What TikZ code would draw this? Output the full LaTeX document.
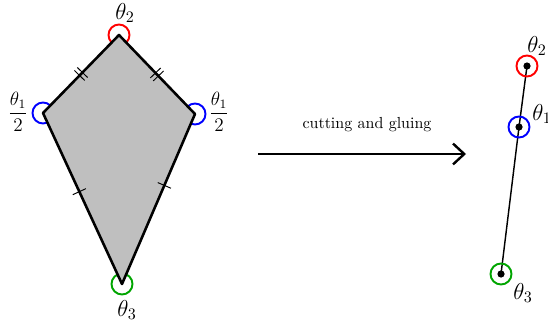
\documentclass[tikz,border=0pt]{standalone}
\usetikzlibrary{decorations.markings,arrows.meta}
\definecolor{mygreen}{RGB}{0,165,0}
\begin{document}
\begin{tikzpicture}[x=0.625pt,y=-0.625pt,
  anglecirc/.style={line width=1.2pt},
  kiteedge/.style={line width=1.6pt},
  onetick/.style={postaction={decorate,decoration={markings,
     mark=at position #1 with {\draw[line width=0.6pt] (0,-4.5pt)--(0,4.5pt);}}}},
  twotick/.style={postaction={decorate,decoration={markings,
     mark=at position #1 with {\draw[line width=0.6pt] (-1.3pt,-4.5pt)--(-1.3pt,4.5pt) (1.3pt,-4.5pt)--(1.3pt,4.5pt);}}}},
  dotpt/.style={circle,fill=black,inner sep=0pt,minimum size=4.5pt},
  lbl/.style={inner sep=0pt,font=\Large},
  fraclbl/.style={inner sep=0pt,font=\large}]
\useasboundingbox (0,0) rectangle (548,326);
% kite vertices
\coordinate (T) at (119,35);
\coordinate (L) at (43,113);
\coordinate (R) at (195,114);
\coordinate (B) at (122,284);
% angle circles
\draw[anglecirc,red] (T) circle[radius=10.5];
\draw[anglecirc,blue] (L) circle[radius=10.5];
\draw[anglecirc,blue] (R) circle[radius=10.5];
\draw[anglecirc,mygreen] (B) circle[radius=10.5];
% kite
\fill[black!25] (T) -- (R) -- (B) -- (L) -- cycle;
\draw[kiteedge,line join=round] (T) -- (R) -- (B) -- (L) -- cycle;
\path[twotick=0.5] (T) -- (L);
\path[twotick=0.5] (T) -- (R);
\path[onetick=0.46] (L) -- (B);
\path[onetick=0.42] (R) -- (B);
% labels
\node[lbl] (lt2) at (125,13) {$\theta_2$};
\node[fraclbl] (ll1) at (18,112) {$\displaystyle\frac{\theta_1}{2}$};
\node[fraclbl] (lr1) at (219,112) {$\displaystyle\frac{\theta_1}{2}$};
\node[lbl] (lt3) at (127,310) {$\theta_3$};
% arrow
\coordinate (A1) at (258,154);
\coordinate (A2) at (466,154);
\draw[line width=1.5pt,-{Straight Barb[length=7pt,width=13pt,line width=1.5pt]}] (A1) -- (A2);
\node[inner sep=0pt] (cg) at (367,125) {cutting and gluing};
% right side
\coordinate (P2) at (527,66);
\coordinate (P1) at (519,127);
\coordinate (P3) at (501,274);
\draw[line width=0.9pt] (P2) -- (P1) -- (P3);
\draw[anglecirc,red] (P2) circle[radius=10.5];
\draw[anglecirc,blue] (P1) circle[radius=10.5];
\draw[anglecirc,mygreen] (P3) circle[radius=10.5];
\node[dotpt] (d2) at (P2) {};
\node[dotpt] (d1) at (P1) {};
\node[dotpt] (d3) at (P3) {};
\node[lbl] (r2) at (537,46) {$\theta_2$};
\node[lbl] (r1) at (542,114) {$\theta_1$};
\node[lbl] (r3) at (523,293) {$\theta_3$};
\end{tikzpicture}
\end{document}
